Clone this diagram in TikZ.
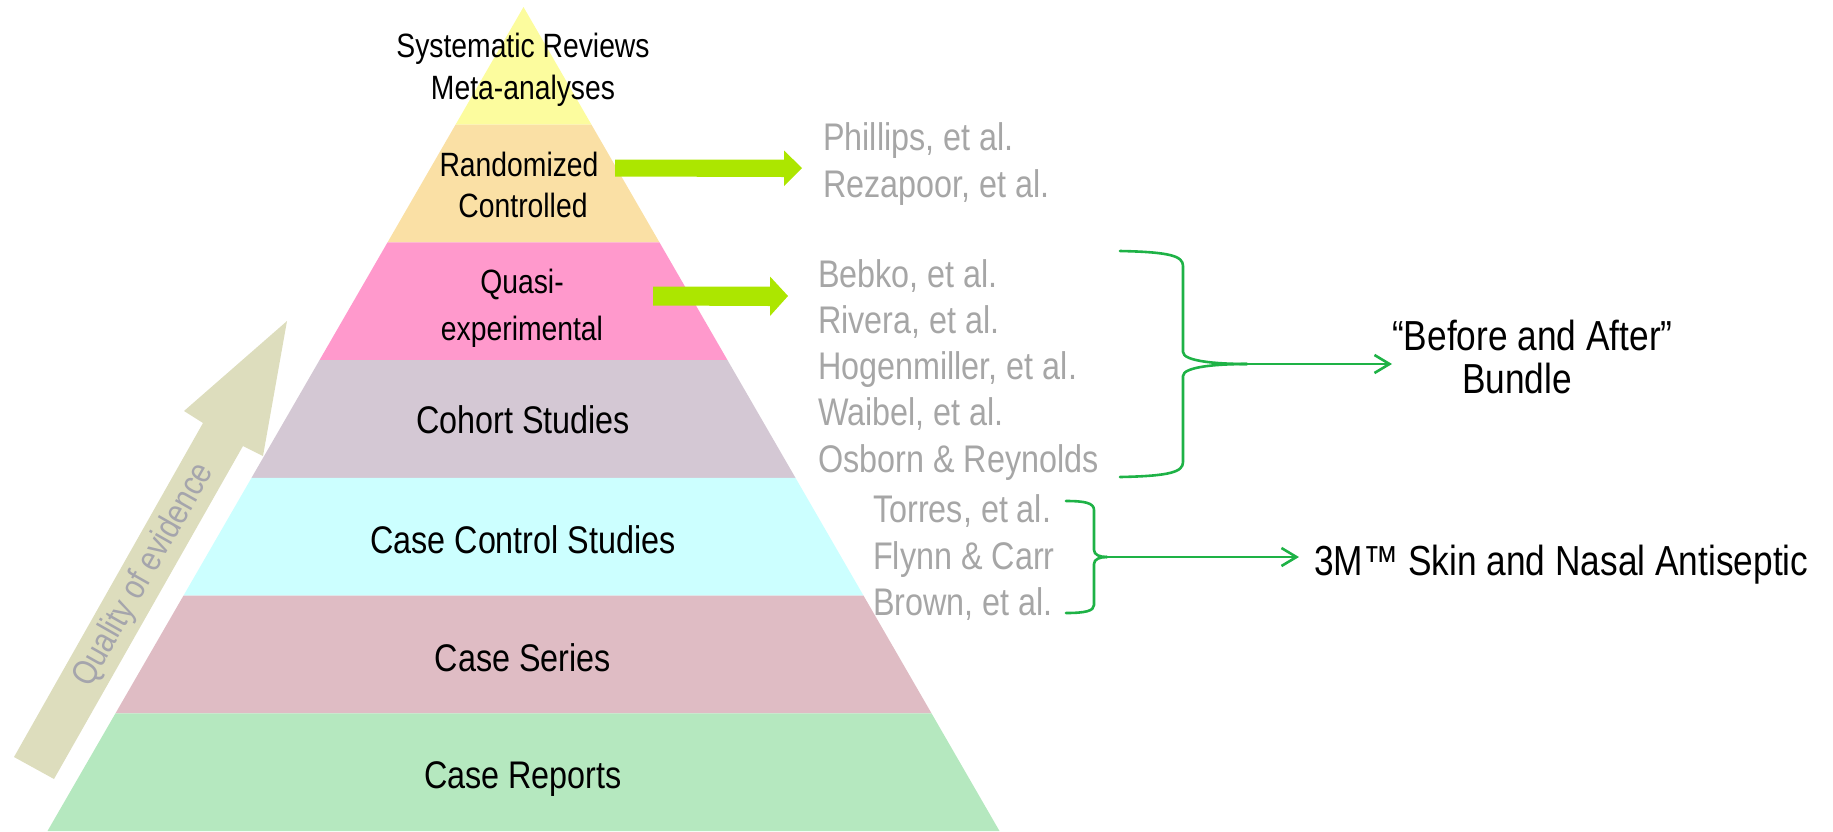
\documentclass[tikz,border=0pt]{standalone}
\usepackage{fontspec}
\setmainfont[FakeStretch=0.84]{Liberation Sans}
\usetikzlibrary{calc,arrows.meta}
\definecolor{bandA}{RGB}{252,252,158}
\definecolor{bandB}{RGB}{250,224,165}
\definecolor{bandC}{RGB}{255,153,204}
\definecolor{bandD}{RGB}{212,200,212}
\definecolor{bandE}{RGB}{204,255,255}
\definecolor{bandF}{RGB}{223,188,196}
\definecolor{bandG}{RGB}{181,232,191}
\definecolor{refgray}{RGB}{166,166,166}
\definecolor{blockGreen}{RGB}{172,230,0}
\definecolor{braceGreen}{RGB}{30,178,70}
\definecolor{qualFill}{RGB}{221,221,189}
\definecolor{qualText}{RGB}{165,165,172}
\begin{document}
\begin{tikzpicture}[x=1pt,y=-1pt,
  lbl/.style={inner sep=0pt, anchor=base, text=black},
  bigtxt/.style={font=\fontsize{38.5}{44}\selectfont},
  smalltxt/.style={font=\fontsize{33.7}{40}\selectfont},
  reftxt/.style={inner sep=0pt, anchor=base west, text=refgray, font=\fontsize{38.5}{44}\selectfont},
  outtxt/.style={inner sep=0pt, text=black, font=\fontsize{42}{48}\selectfont},
  brace/.style={draw=braceGreen, line width=2.6pt, line cap=round, line join=round},
  bracearrow/.style={brace, -{Straight Barb[length=15pt,width=18pt,line width=2.6pt]}},
  block/.style={fill=blockGreen, draw=none}]
\useasboundingbox (0,0) rectangle (1833,831);
% pyramid
\coordinate (A) at (523.5,7);
\coordinate (BL) at (47.5,831);
\coordinate (BR) at (999.5,831);
\foreach \k/\c in {0/bandA,1/bandB,2/bandC,3/bandD,4/bandE,5/bandF,6/bandG}{
  \pgfmathsetmacro\a{\k/7}
  \pgfmathsetmacro\b{(\k+1)/7}
  \fill[\c] ($(A)!\a!(BL)$) -- ($(A)!\b!(BL)$) -- ($(A)!\b!(BR)$) -- ($(A)!\a!(BR)$) -- cycle;
}
% pyramid labels
\node[lbl,smalltxt] (sr) at (523,57) {Systematic Reviews};
\node[lbl,smalltxt] (ma) at (523,99) {Meta-analyses};
\node[lbl,smalltxt] (rc1) at (519,176) {Randomized};
\node[lbl,smalltxt] (rc2) at (523,217) {Controlled};
\node[lbl,smalltxt] (qe1) at (522,293) {Quasi-};
\node[lbl,smalltxt] (qe2) at (522,340) {experimental};
\node[lbl,bigtxt] (co) at (523,433) {Cohort Studies};
\node[lbl,bigtxt] (cc) at (523,553) {Case Control Studies};
\node[lbl,bigtxt] (cs) at (523,671) {Case Series};
\node[lbl,bigtxt] (cr) at (523,788) {Case Reports};
% quality of evidence arrow
\fill[qualFill] (14,757) -- (203,423) -- (184,411) -- (287,321) -- (263,456) -- (243,446) -- (54,779) -- cycle;
\node[rotate=60.4, text=qualText, font=\fontsize{35}{40}\selectfont, inner sep=0pt] (qual) at (144,575) {Quality of evidence};
% green block arrows
\coordinate (g1) at (615,168);
\coordinate (g2) at (653,296);
\fill[block] ($(g1)+(0,-8.5)$) -- ++(169,0) -- ++(0,-9) -- ($(g1)+(187,0)$) -- ($(g1)+(169,18)$) -- ++(0,-9) -- ($(g1)+(0,8.5)$) -- cycle;
\fill[block] ($(g2)+(0,-9.5)$) -- ++(117,0) -- ++(0,-10) -- ($(g2)+(135,0)$) -- ($(g2)+(117,20)$) -- ++(0,-10) -- ($(g2)+(0,9.5)$) -- cycle;
% references
\node[reftxt] (phil) at (823,150) {Phillips, et al.};
\node[reftxt] (reza) at (823,197) {Rezapoor, et al.};
\node[reftxt] (bebko) at (818,287) {Bebko, et al.};
\node[reftxt] (rivera) at (818,333) {Rivera, et al.};
\node[reftxt] (hogen) at (818,379) {Hogenmiller, et al.};
\node[reftxt] (waibel) at (818,425) {Waibel, et al.};
\node[reftxt] (osborn) at (818,472) {Osborn \& Reynolds};
\node[reftxt] (torres) at (873,522) {Torres, et al.};
\node[reftxt] (flynn) at (873,569) {Flynn \& Carr};
\node[reftxt] (brown) at (873,615) {Brown, et al.};
% right texts
\node[outtxt, anchor=base west] (ba1) at (1392,350) {“Before and After”};
\node[outtxt, anchor=base] (ba2) at (1517,393) {Bundle};
\node[outtxt, anchor=base west] (skin) at (1314,575) {3M™ Skin and Nasal Antiseptic};
% brace 1
\coordinate (cusp1) at (1247,364);
\draw[brace] (1120,251) .. controls (1170,252) and (1183,256) .. (1183,266) -- (1183,352) .. controls (1183,361) and (1215,364) .. (cusp1);
\draw[brace] (cusp1) .. controls (1215,364) and (1183,367) .. (1183,376) -- (1183,462) .. controls (1183,472) and (1170,476) .. (1120,477);
\draw[bracearrow] (cusp1) -- (ba1.west |- cusp1);
% brace 2
\coordinate (cusp2) at (1107,557);
\draw[brace] (1066,501) .. controls (1085,501) and (1094,503) .. (1094,510) -- (1094,550) .. controls (1094,555) and (1100,557) .. (cusp2);
\draw[brace] (cusp2) .. controls (1100,557) and (1094,559) .. (1094,564) -- (1094,605) .. controls (1094,611) and (1085,613) .. (1066,613);
\draw[bracearrow] (cusp2) -- ($(skin.west |- cusp2)+(-15,0)$);
\end{tikzpicture}
\end{document}
